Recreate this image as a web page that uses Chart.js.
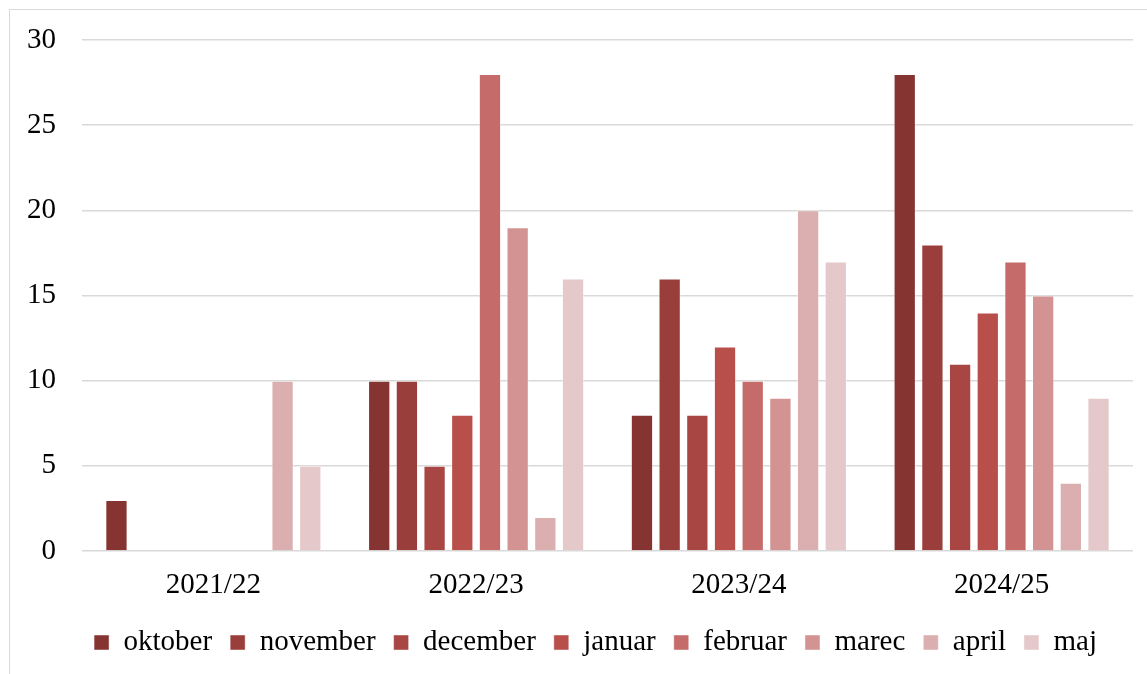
<!DOCTYPE html>
<html>
<head>
<meta charset="utf-8">
<script src="https://cdn.jsdelivr.net/npm/chart.js@4"></script>
<style>
  html, body { margin: 0; padding: 0; background: #fff; overflow: hidden; }
  #wrap { position: relative; width: 1147px; height: 674px; }
  #frame { position: absolute; left: 9px; top: 9px; width: 1200px; height: 700px; border: 1.5px solid #d9d9d9; }
  canvas { position: absolute; left: 0; top: 0; }
</style>
</head>
<body>
<div id="wrap">
  <div id="frame"></div>
  <canvas id="chart" width="1147" height="674"></canvas>
</div>
<script>
const seasons = ['2021/22', '2022/23', '2023/24', '2024/25'];
const months = ['oktober', 'november', 'december', 'januar', 'februar', 'marec', 'april', 'maj'];
const colors = ['#863432', '#9a3e3c', '#a84644', '#b84f4b', '#c56b69', '#d39392', '#dbafb0', '#e5c8c9'];

// values per month, one entry per season
const oktober = [3, 10, 8, 28];
const november = [null, 10, 16, 18];
const december = [null, 5, 8, 11];
const januar = [null, 8, 12, 14];
const februar = [null, 28, 10, 17];
const marec = [null, 19, 9, 15];
const april = [10, 2, 20, 4];
const maj = [5, 16, 17, 9];

const yTicks = [0, 5, 10, 15, 20, 25, 30];

const series = [oktober, november, december, januar, februar, marec, april, maj];
const font = { family: "'Liberation Serif', 'Times New Roman', serif", size: 29 };

// nudge the legend a bit to the left, like the original
const legendShift = {
    id: 'legendShift',
    afterLayout(chart) {
        chart.legend.left -= 12;
        chart.legend.right -= 12;
    }
};

new Chart(document.getElementById('chart'), {
    type: 'bar',
    data: {
        labels: seasons,
        datasets: series.map((vals, i) => ({
            label: months[i],
            data: vals,
            backgroundColor: colors[i],
            borderColor: 'rgba(255,255,255,0.45)',
            borderWidth: 1,
            categoryPercentage: 0.843,
            barPercentage: 0.805
        }))
    },
    plugins: [legendShift],
    options: {
        responsive: false,
        animation: false,
        layout: { padding: { left: 10, right: 14, top: 40, bottom: 7 } },
        plugins: {
            tooltip: { enabled: false },
            legend: {
                position: 'bottom',
                fullSize: false,
                labels: {
                    font: font,
                    color: '#000',
                    boxWidth: 15,
                    boxHeight: 15,
                    padding: 18
                }
            }
        },
        scales: {
            x: {
                grid: { display: false, drawTicks: false },
                border: { display: false },
                ticks: { font: font, color: '#000', padding: 17 },
                afterFit: s => { s.height = 59; }
            },
            y: {
                min: 0,
                max: 30,
                afterBuildTicks: s => { s.ticks = yTicks.map(v => ({ value: v })); },
                grid: { color: '#d9d9d9', lineWidth: 1.5, drawTicks: false },
                border: { display: false },
                ticks: { font: font, color: '#000', padding: 26 },
                afterFit: s => {
                    s.width = 72;
                    s.paddingTop = 0;
                    s.paddingBottom = 0;
                }
            }
        }
    }
});
</script>
</body>
</html>
